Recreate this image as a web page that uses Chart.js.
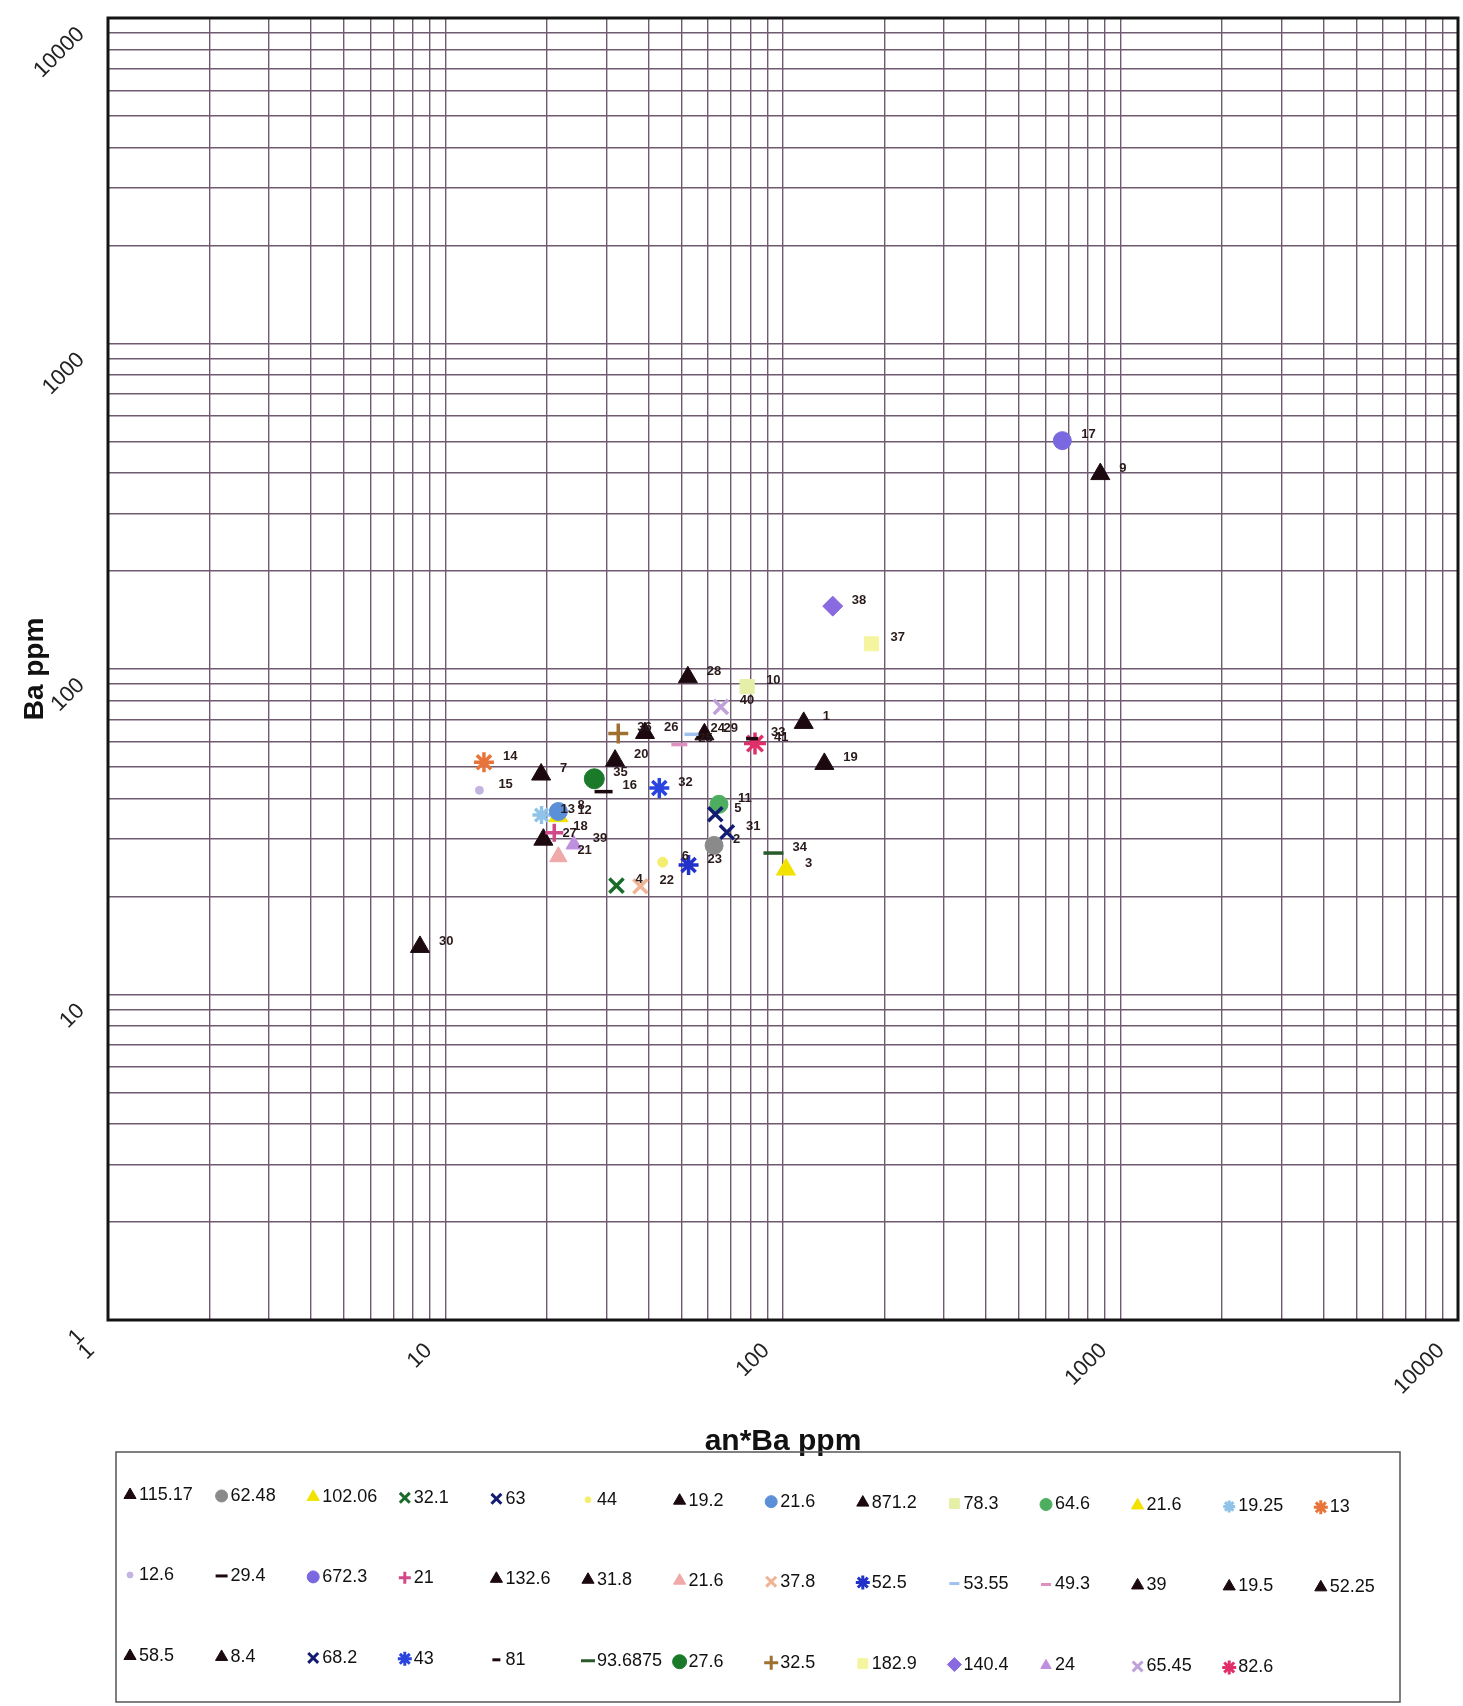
<!DOCTYPE html>
<html lang="en">
<head>
<meta charset="UTF-8">
<title>Ba vs an*Ba</title>
<style>
  body { margin: 0; background: #fff; }
  canvas { display: block; }
</style>
</head>
<body>
<canvas id="myChart" width="1463" height="1706"></canvas>
<script src="https://cdn.jsdelivr.net/npm/chart.js"></script>
<script>
// sample numbers, an*Ba ppm (x) and Ba ppm (y)
const samples = [1, 2, 3, 4, 5, 6, 7, 8, 9, 10, 11, 12, 13, 14,
                 15, 16, 17, 18, 19, 20, 21, 22, 23, 24, 25, 26, 27, 28,
                 29, 30, 31, 32, 33, 34, 35, 36, 37, 38, 39, 40, 41];
const anBa = [115.17, 62.48, 102.06, 32.1, 63, 44, 19.2, 21.6, 871.2, 78.3, 64.6, 21.6, 19.25, 13,
              12.6, 29.4, 672.3, 21, 132.6, 31.8, 21.6, 37.8, 52.5, 53.55, 49.3, 39, 19.5, 52.25,
              58.5, 8.4, 68.2, 43, 81, 93.6875, 27.6, 32.5, 182.9, 140.4, 24, 65.45, 82.6];
const ba = [68.3, 28.7, 24.2, 21.6, 35.8, 25.5, 47.4, 36.5, 397, 88.3, 38.4, 35.3, 35.6, 51.7,
            42.4, 42.0, 503, 31.4, 51.1, 52.3, 26.5, 21.5, 25.0, 63.0, 58.6, 63.6, 29.9, 94.3,
            63.0, 14.0, 31.5, 43.1, 61.1, 27.2, 46.0, 63.4, 119.5, 156, 28.9, 76.5, 59.0];

const tickValues = [1, 10, 100, 1000, 10000];
const tickLabels = ['1', '10', '100', '1000', '10000'];

// marker look per sample
const BLK = '#1c0910';
const shapes = ['triangle', 'circle', 'triangle', 'crossRot', 'crossRot', 'circle', 'triangle', 'circle', 'triangle', 'rect', 'circle', 'triangle', 'star', 'star',
                'circle', 'line', 'circle', 'cross', 'triangle', 'triangle', 'triangle', 'crossRot', 'star', 'line', 'line', 'triangle', 'triangle', 'triangle',
                'triangle', 'triangle', 'crossRot', 'star', 'line', 'line', 'circle', 'cross', 'rect', 'rectRot', 'triangle', 'crossRot', 'star'];
const colors = [BLK, '#8a8a8a', '#f2e200', '#1a6b2a', '#121c70', '#f4ee70', BLK, '#5b8fd8', BLK, '#e6efa8', '#4cae5e', '#f2e200', '#8fc3ea', '#e8743a',
                '#c4b4e2', BLK, '#7a68e0', '#d04a8a', BLK, BLK, '#f0a8a8', '#f0b494', '#2232c8', '#9fc0f0', '#e090c0', BLK, BLK, BLK,
                BLK, BLK, '#121c70', '#2a44e0', BLK, '#2a5a2a', '#1a7a2a', '#a07030', '#f5f5a0', '#8a6ae0', '#c090e0', '#c0a0d8', '#e0306a'];
const sizes = [11, 9, 11, 10, 10, 5, 11, 9, 11, 10, 9, 11, 9, 10,
               4, 9, 9, 9, 11, 11, 10, 10, 10, 7, 8, 11, 11, 11,
               11, 11, 10, 10, 6, 10, 10, 10, 10, 10, 9, 10, 11];
const strokeShapes = ['crossRot', 'cross', 'star', 'line'];

// grid lines at 1..9 of every decade
const gridValues = [];
for (let d = 0; d < tickValues.length - 1; d++) {
  for (let m = 1; m < 10; m++) gridValues.push(m * tickValues[d]);
}
gridValues.push(tickValues[tickValues.length - 1]);

const tickLabel = (v) => {
  const i = tickValues.indexOf(Number(v));
  return i >= 0 ? tickLabels[i] : '';
};

Chart.defaults.font.family = "'Liberation Sans', Arial, sans-serif";
Chart.defaults.color = '#222';

const datasets = samples.map((s, i) => ({
  label: String(anBa[i]),
  data: [{ x: anBa[i], y: ba[i] }],
  pointStyle: shapes[i],
  pointRadius: sizes[i],
  pointHoverRadius: sizes[i],
  backgroundColor: colors[i],
  borderColor: colors[i],
  pointBorderWidth: strokeShapes.includes(shapes[i]) ? 3.5 : 1
}));

const white = {
  id: 'white',
  beforeDraw(chart) {
    const c = chart.ctx;
    c.save();
    c.fillStyle = '#fff';
    c.fillRect(0, 0, chart.width, chart.height);
    c.restore();
  }
};

const frame = {
  id: 'frame',
  beforeDatasetsDraw(chart) {
    const a = chart.chartArea, c = chart.ctx;
    c.save();
    c.strokeStyle = '#141414';
    c.lineWidth = 3;
    c.strokeRect(a.left, a.top, a.right - a.left, a.bottom - a.top);
    c.restore();
  }
};

const pointLabels = {
  id: 'pointLabels',
  afterDatasetsDraw(chart) {
    const c = chart.ctx;
    c.save();
    c.font = "bold 13px 'Liberation Sans', Arial";
    c.fillStyle = '#2a1a1a';
    c.textBaseline = 'middle';
    chart.data.datasets.forEach((ds, i) => {
      const p = chart.getDatasetMeta(i).data[0];
      c.fillText(String(samples[i]), p.x + 19, p.y - 6);
    });
    c.restore();
  }
};

const sampleLegend = {
  id: 'sampleLegend',
  afterDraw(chart) {
    const c = chart.ctx;
    c.save();
    c.strokeStyle = '#555';
    c.lineWidth = 1.5;
    c.strokeRect(116, 1452, 1284, 250);
    const rowY = [1495, 1575, 1656];
    c.font = "18px 'Liberation Sans', Arial";
    c.textBaseline = 'middle';
    chart.data.datasets.forEach((ds, i) => {
      const row = Math.floor(i / 14), col = i % 14;
      const x = 130 + col * 91.6, y = rowY[row] + col * 0.95;
      const r = Math.max(3, Math.round(sizes[i] * 0.65));
      c.fillStyle = colors[i];
      c.strokeStyle = colors[i];
      c.lineWidth = strokeShapes.includes(shapes[i]) ? 3 : 1;
      if (Chart.helpers && Chart.helpers.drawPoint) {
        Chart.helpers.drawPoint(c, { pointStyle: shapes[i], rotation: 0, radius: r, borderWidth: c.lineWidth }, x, y);
      } else {
        c.beginPath(); c.arc(x, y, r, 0, Math.PI * 2); c.fill();
      }
      c.fillStyle = '#111';
      c.fillText(ds.label, x + 9, y);
    });
    c.restore();
  }
};

const gridOpts = { color: '#6f5a70', lineWidth: 1.4, drawTicks: false };

new Chart(document.getElementById('myChart'), {
  type: 'scatter',
  data: { datasets: datasets },
  options: {
    responsive: false,
    animation: false,
    devicePixelRatio: 1,
    layout: { autoPadding: false, padding: { left: 8, right: 5, top: 18, bottom: 246 } },
    plugins: { legend: { display: false }, tooltip: { enabled: false } },
    scales: {
      x: {
        type: 'logarithmic', min: 1, max: 10000,
        afterBuildTicks: (s) => { s.ticks = gridValues.map(v => ({ value: v })); },
        afterFit: (s) => { s.height = 140; s.paddingLeft = 0; s.paddingRight = 0; },
        grid: gridOpts,
        border: { display: false },
        ticks: { autoSkip: false, minRotation: 45, maxRotation: 45, padding: 18, labelOffset: -17, color: '#222', font: { size: 22 }, callback: tickLabel },
        title: { display: true, text: 'an*Ba ppm', color: '#111', font: { size: 30, weight: 'bold' }, padding: { top: 0, bottom: 0 } }
      },
      y: {
        type: 'logarithmic', min: 1, max: 10000,
        afterBuildTicks: (s) => { s.ticks = gridValues.map(v => ({ value: v })); },
        afterFit: (s) => { s.width = 100; s.paddingTop = 0; s.paddingBottom = 0; },
        grid: gridOpts,
        border: { display: false },
        ticks: { autoSkip: false, minRotation: 45, maxRotation: 45, padding: 27, labelOffset: 13, color: '#222', font: { size: 22 }, callback: tickLabel },
        title: { display: true, text: 'Ba ppm', color: '#111', font: { size: 28, weight: 'bold' }, padding: { top: 10, bottom: 0 } }
      }
    }
  },
  plugins: [white, frame, pointLabels, sampleLegend]
});
</script>
</body>
</html>
